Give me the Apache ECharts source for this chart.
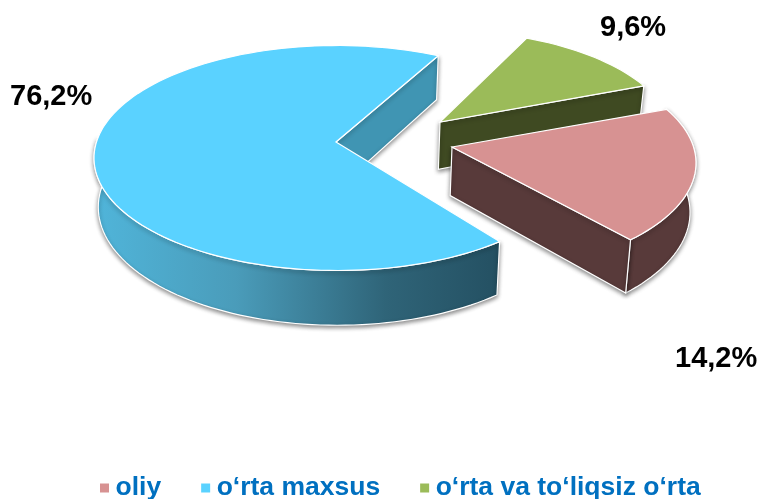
<!DOCTYPE html>
<html><head><meta charset="utf-8">
<style>html,body{margin:0;padding:0;background:#fff}#c{width:760px;height:499px}</style>
<script src="https://cdn.jsdelivr.net/npm/echarts@6/dist/echarts.min.js"></script>
</head><body><div id="c"></div>
<script>
const categories = ['oliy', 'o‘rta maxsus', 'o‘rta va to‘liqsiz o‘rta'];
const shares = [14.2, 76.2, 9.6];
const topColors = ['#d79292', '#5ad2ff', '#9bbb59'];

// view of the tilted pie
const RX = 243, RY = 112.5, CX = 337, CY = 158, APEX_UP = 16, VX = 345, SHRINK = 0.983;
const views = [
  {start: -28.5, stretch: 1.40,  dx: 116, dy: 5,   scale: 1,     label: [675, 359], face: '#583a3a'},
  {start: 48,    stretch: 0.8990, dx: 0,  dy: 0,   scale: 1,     label: [10, 97],   face: '#4095b3'},
  {start: -68.3, stretch: 1.135, dx: 104, dy: -20, scale: 0.955, label: [600, 28],  face: '#3f4a22'}
];
const depth = y => 44 + 0.05 * (y - 55);
const lower = p => [VX + (p[0] - VX) * SHRINK, p[1] + depth(p[1])];
const shadow = {shadowColor: 'rgba(0,0,0,0.45)', shadowBlur: 4, shadowOffsetY: 2};
const edge = {stroke: '#fff', lineWidth: 1.2};
const blueSide = new echarts.graphic.LinearGradient(0, 0, 1, 0, [
  {offset: 0, color: '#50b5da'}, {offset: 0.35, color: '#4a9cba'},
  {offset: 0.72, color: '#2f6478'}, {offset: 1, color: '#245062'}
]);

function slicePaint(i) {
  return function (params, api) {
    const v = views[i];
    const sweep = api.value(0) * 3.6 * v.stretch;
    const ex = CX + v.dx, ey = CY + v.dy;
    const at = t => {
      const a = t * Math.PI / 180;
      return [ex + v.scale * RX * Math.cos(a), ey + v.scale * RY * Math.sin(a)];
    };
    const apex = [ex - 1, ey - APEX_UP];
    const arc = (a, b) => {
      const pts = [];
      const n = Math.max(8, Math.ceil(Math.abs(b - a) / 2));
      for (let k = 0; k <= n; k++) pts.push(at(a + (b - a) * k / n));
      return pts;
    };
    const poly = (points, style) => ({type: 'polygon', shape: {points}, style});
    const end = v.start + sweep;
    const top = poly([apex].concat(arc(v.start, end)), Object.assign({fill: topColors[i]}, edge));
    const e = at(end);
    const children = [];
    if (i === 0) {
      // cut face toward the viewer and the outer rim
      const rim = arc(v.start, end);
      children.push(poly(rim.concat(rim.slice().reverse().map(lower)), Object.assign({fill: v.face}, edge, shadow)));
      children.push(poly([apex, e, lower(e), lower(apex)], Object.assign({fill: v.face}, edge, shadow)));
    } else if (i === 1) {
      children.push(poly([apex, e, lower(e), lower(apex)], Object.assign({fill: v.face}, edge, shadow)));
      const rim = arc(v.start, 190);
      children.push(poly(rim.concat(rim.slice().reverse().map(lower)), Object.assign({fill: blueSide}, edge, shadow)));
    } else {
      children.push(poly([apex, e, lower(e), lower(apex)], Object.assign({fill: v.face}, edge, shadow)));
    }
    children.push(top);
    children.push({type: 'text', style: {
      text: api.value(0).toFixed(1).replace('.', ',') + '%',
      x: v.label[0], y: v.label[1], verticalAlign: 'middle',
      font: 'bold 29px "Liberation Sans", Arial, sans-serif', fill: '#000'
    }});
    return {type: 'group', children};
  };
}

const order = [1, 2, 0];
const chart = echarts.init(document.getElementById('c'), null, {renderer: 'canvas'});
chart.setOption({
  animation: false,
  backgroundColor: '#fff',
  legend: {
    data: categories, left: 100, top: 473, padding: 0, itemWidth: 9, itemHeight: 9, itemGap: 40,
    icon: 'rect', selectedMode: false,
    textStyle: {color: '#0070c0', fontSize: 26.5, lineHeight: 30, fontWeight: 'bold', fontFamily: '"Liberation Sans", Arial, sans-serif', padding: [0, 0, 0, 1.5]}
  },
  series: order.map(i => ({
    type: 'custom', name: categories[i], coordinateSystem: 'none', silent: true,
    itemStyle: {color: topColors[i]}, data: [[shares[i]]], renderItem: slicePaint(i)
  }))
});
</script></body></html>
